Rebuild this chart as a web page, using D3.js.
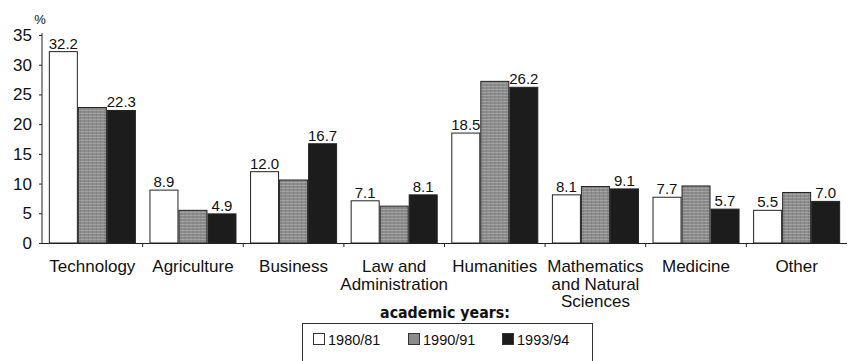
<!DOCTYPE html>
<html>
<head>
<meta charset="utf-8">
<script src="https://cdn.jsdelivr.net/npm/d3@7"></script>
<style>
  html, body { margin: 0; padding: 0; background: #fff; }
  svg { display: block; font-family: "Liberation Sans", Arial, sans-serif; }
</style>
</head>
<body>
<svg id="chart" width="848" height="361"></svg>
<script>
// Share of students by field of study, three academic years
const categories = [
  ["Technology"],
  ["Agriculture"],
  ["Business"],
  ["Law and", "Administration"],
  ["Humanities"],
  ["Mathematics", "and Natural", "Sciences"],
  ["Medicine"],
  ["Other"]
];
const years = ["1980/81", "1990/91", "1993/94"];
const values1980 = [32.2, 8.9, 12.0, 7.1, 18.5, 8.1, 7.7, 5.5];
const values1990 = [22.8, 5.5, 10.6, 6.2, 27.2, 9.5, 9.6, 8.5];
const values1993 = [22.3, 4.9, 16.7, 8.1, 26.2, 9.1, 5.7, 7.0];
const yTicks = [0, 5, 10, 15, 20, 25, 30, 35];
// which series carry a printed value above the bar
const labelled = [true, false, true];

const series = [values1980, values1990, values1993];
const svg = d3.select("#chart");

const plotLeft = 42, plotRight = 847, plotTop = 33, plotBottom = 243;

const defs = svg.append("defs");
const pat = defs.append("pattern")
  .attr("id", "stripes")
  .attr("patternUnits", "userSpaceOnUse")
  .attr("width", 4).attr("height", 3);
pat.append("rect").attr("width", 4).attr("height", 3).attr("fill", "#8b8b8b");
pat.append("rect").attr("y", 2).attr("width", 4).attr("height", 1).attr("fill", "#a6a6a6");
pat.append("rect").attr("x", 3).attr("width", 1).attr("height", 3).attr("fill", "#7c7c7c").attr("opacity", 0.5);

const fills = ["#ffffff", "url(#stripes)", "#1c1c1c"];

const x0 = d3.scaleBand()
  .domain(d3.range(categories.length))
  .range([plotLeft, plotRight])
  .paddingInner(0.135)
  .paddingOuter(0.068);
const x1 = d3.scaleBand()
  .domain(d3.range(years.length))
  .range([0, x0.bandwidth()]);
const y = d3.scaleLinear().domain([0, 35]).range([plotBottom, plotTop + 2]);

// y axis
const yAxis = svg.append("g")
  .attr("transform", `translate(${plotLeft},0)`)
  .call(d3.axisLeft(y).tickValues(yTicks).tickSize(3).tickPadding(7).tickFormat(d3.format("d")));
yAxis.select(".domain").attr("stroke", "#222").attr("d", `M0,${plotBottom}V${plotTop}`);
yAxis.selectAll(".tick line").attr("stroke", "#222");
yAxis.selectAll("text")
  .attr("font-family", "'Liberation Sans', Arial, sans-serif")
  .attr("font-size", 17).attr("fill", "#111");

svg.append("text")
  .attr("x", 40).attr("y", 24)
  .attr("font-size", 13).attr("fill", "#111")
  .attr("text-anchor", "middle")
  .text("%");

// bars
const groups = svg.append("g").selectAll("g")
  .data(categories)
  .join("g")
  .attr("transform", (d, i) => `translate(${x0(i)},0)`);

groups.each(function(c, ci) {
  const g = d3.select(this);
  series.forEach((vals, si) => {
    const v = vals[ci];
    g.append("rect")
      .attr("x", x1(si) + 0.5)
      .attr("y", y(v))
      .attr("width", x1.bandwidth() - 1)
      .attr("height", plotBottom - y(v))
      .attr("fill", fills[si])
      .attr("stroke", "#222")
      .attr("stroke-width", 1);
    if (labelled[si]) {
      g.append("text")
        .attr("x", x1(si) + x1.bandwidth() / 2)
        .attr("y", y(v) - 3)
        .attr("text-anchor", "middle")
        .attr("font-size", 15)
        .attr("fill", "#111")
        .text(v.toFixed(1));
    }
  });
});

// x axis baseline with boundary ticks
svg.append("line")
  .attr("x1", plotLeft).attr("x2", plotRight)
  .attr("y1", plotBottom + 0.5).attr("y2", plotBottom + 0.5)
  .attr("stroke", "#222");
const step = x0.step();
svg.append("g").selectAll("line")
  .data(d3.range(1, categories.length))
  .join("line")
  .attr("x1", i => x0(i) - step * x0.paddingInner() / 2)
  .attr("x2", i => x0(i) - step * x0.paddingInner() / 2)
  .attr("y1", plotBottom).attr("y2", plotBottom + 4)
  .attr("stroke", "#222");

// category labels
const catLabels = svg.append("g").selectAll("text")
  .data(categories)
  .join("text")
  .attr("x", (d, i) => x0(i) + x0.bandwidth() / 2)
  .attr("y", 272)
  .attr("text-anchor", "middle")
  .attr("font-size", 17)
  .attr("fill", "#111");
catLabels.selectAll("tspan")
  .data(d => d)
  .join("tspan")
  .attr("x", function() { return d3.select(this.parentNode).attr("x"); })
  .attr("dy", (d, i) => i === 0 ? 0 : 17.5)
  .text(d => d);

// legend
const legendTitle = svg.append("text")
  .attr("x", 445).attr("y", 318)
  .attr("text-anchor", "middle")
  .attr("font-family", "'Liberation Sans Narrow', 'DejaVu Sans Condensed', sans-serif")
  .attr("font-weight", "bold")
  .attr("font-size", 19)
  .attr("fill", "#111")
  .text("academic years:");
// keep the title within its slot whichever condensed face is present
const titleWidth = legendTitle.node().getComputedTextLength();
if (titleWidth > 132) legendTitle.attr("font-size", 19 * 130 / titleWidth);

svg.append("rect")
  .attr("x", 302.5).attr("y", 323.5)
  .attr("width", 290).attr("height", 45)
  .attr("fill", "#fff")
  .attr("stroke", "#333");

const legendFills = ["#ffffff", "#8b8b8b", "#1c1c1c"];
const legendX = [313, 408, 502];
const legend = svg.append("g").selectAll("g")
  .data(years)
  .join("g")
  .attr("transform", (d, i) => `translate(${legendX[i]},333)`);
legend.append("rect")
  .attr("x", 0.5).attr("y", 0.5)
  .attr("width", 11).attr("height", 11)
  .attr("fill", (d, i) => legendFills[i])
  .attr("stroke", "#333");
legend.append("text")
  .attr("x", 15).attr("y", 12)
  .attr("font-size", 14.5)
  .attr("fill", "#111")
  .text(d => d);
</script>
</body>
</html>
